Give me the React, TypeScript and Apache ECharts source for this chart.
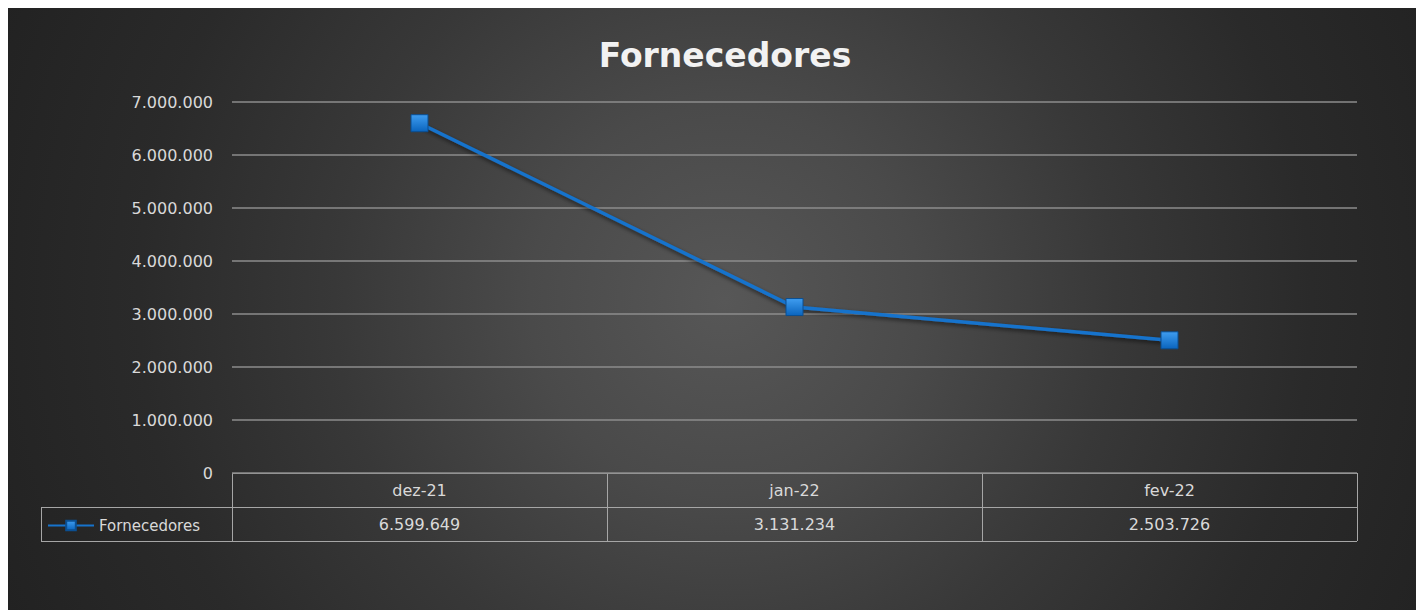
import React, { useEffect, useRef } from "react";
import * as echarts from "echarts";

const categories = ["dez-21", "jan-22", "fev-22"];
const seriesName = "Fornecedores";
const values = [6599649, 3131234, 2503726];
const yTicks = { min: 0, max: 7000000, interval: 1000000 };

const W = 1416;
const H = 602;
const GRID = { left: 224, right: 67, top: 94, bottom: 137 };

function fmt(n: number): string {
  const s = Math.round(n).toString();
  return s.replace(/\B(?=(\d{3})+(?!\d))/g, ".");
}

export default function App() {
  const ref = useRef<HTMLDivElement>(null);
  useEffect(() => {
    document.body.style.overflow = "hidden";
    const chart = echarts.init(ref.current!, null, { renderer: "svg" });
    const plotW = W - GRID.left - GRID.right;
    const zeroY = H - GRID.bottom;
    const rowH = 34;
    const colW = plotW / categories.length;
    const lineColor = "#a6a6a6";
    const textColor = "#d9d9d9";
    const font = "DejaVu Sans";
    const tableX0 = 33;

    const graphics: any[] = [];
    const hl = (x1: number, x2: number, y: number) =>
      graphics.push({ type: "line", silent: true, shape: { x1, y1: y, x2, y2: y }, style: { stroke: lineColor, lineWidth: 1 } });
    const vl = (x: number, y1: number, y2: number) =>
      graphics.push({ type: "line", silent: true, shape: { x1: x, y1, x2: x, y2 }, style: { stroke: lineColor, lineWidth: 1 } });

    hl(GRID.left, GRID.left + plotW, zeroY + 0.5);
    hl(tableX0, GRID.left + plotW, zeroY + rowH + 0.5);
    hl(tableX0, GRID.left + plotW, zeroY + 2 * rowH + 0.5);
    vl(tableX0 + 0.5, zeroY + rowH, zeroY + 2 * rowH);
    for (let i = 0; i <= categories.length; i++) {
      vl(Math.round(GRID.left + i * colW) + 0.5, zeroY, zeroY + 2 * rowH);
    }
    categories.forEach((c, i) => {
      const cx = GRID.left + (i + 0.5) * colW;
      graphics.push({
        type: "text", silent: true, x: cx, y: zeroY + rowH / 2,
        style: { text: c, fill: textColor, font: `16px '${font}'`, textAlign: "center", textVerticalAlign: "middle" },
      });
      graphics.push({
        type: "text", silent: true, x: cx, y: zeroY + rowH * 1.5,
        style: { text: fmt(values[i]), fill: textColor, font: `16px '${font}'`, textAlign: "center", textVerticalAlign: "middle" },
      });
    });

    chart.setOption({
      animation: false,
      backgroundColor: "transparent",
      title: {
        text: seriesName,
        left: 717,
        top: 31,
        textAlign: "center",
        padding: 0,
        textStyle: { color: "#f2f2f2", fontFamily: font, fontWeight: "bold", fontSize: 33 },
      },
      legend: {
        left: 39,
        top: zeroY + rowH * 1.5 - 6,
        padding: 0,
        itemWidth: 46,
        itemHeight: 12,
        data: [seriesName],
        textStyle: { color: textColor, fontFamily: font, fontSize: 15 },
      },
      grid: { ...GRID },
      xAxis: {
        type: "category",
        data: categories,
        boundaryGap: true,
        axisLine: { show: false },
        axisTick: { show: false },
        axisLabel: { show: false },
      },
      yAxis: {
        type: "value",
        min: yTicks.min,
        max: yTicks.max,
        interval: yTicks.interval,
        axisLine: { show: false },
        axisTick: { show: false },
        axisLabel: {
          color: textColor,
          fontFamily: font,
          fontSize: 16,
          margin: 19,
          formatter: (v: number) => fmt(v),
        },
        splitLine: { lineStyle: { color: "#8c8c8c", width: 1.5 } },
      },
      series: [
        {
          name: seriesName,
          type: "line",
          data: values,
          symbol: "rect",
          symbolSize: 17,
          lineStyle: {
            color: "#1673cc",
            width: 3.5,
            shadowBlur: 4,
            shadowColor: "rgba(0,0,0,0.6)",
            shadowOffsetY: 2,
          },
          itemStyle: {
            color: new echarts.graphic.LinearGradient(0, 0, 0, 1, [
              { offset: 0, color: "#3f9df0" },
              { offset: 1, color: "#0a64bd" },
            ]),
            borderColor: "#0b4f92",
            borderWidth: 1,
          },
          z: 5,
        },
      ],
      graphic: graphics,
    });
    return () => chart.dispose();
  }, []);

  return (
    <div
      ref={ref}
      style={{
        width: W,
        height: H,
        background:
          "radial-gradient(circle at 717px 292px, #575757 0%, #4a4a4a 25%, #383838 50%, #2a2a2a 75%, #222222 100%)",
      }}
    />
  );
}
